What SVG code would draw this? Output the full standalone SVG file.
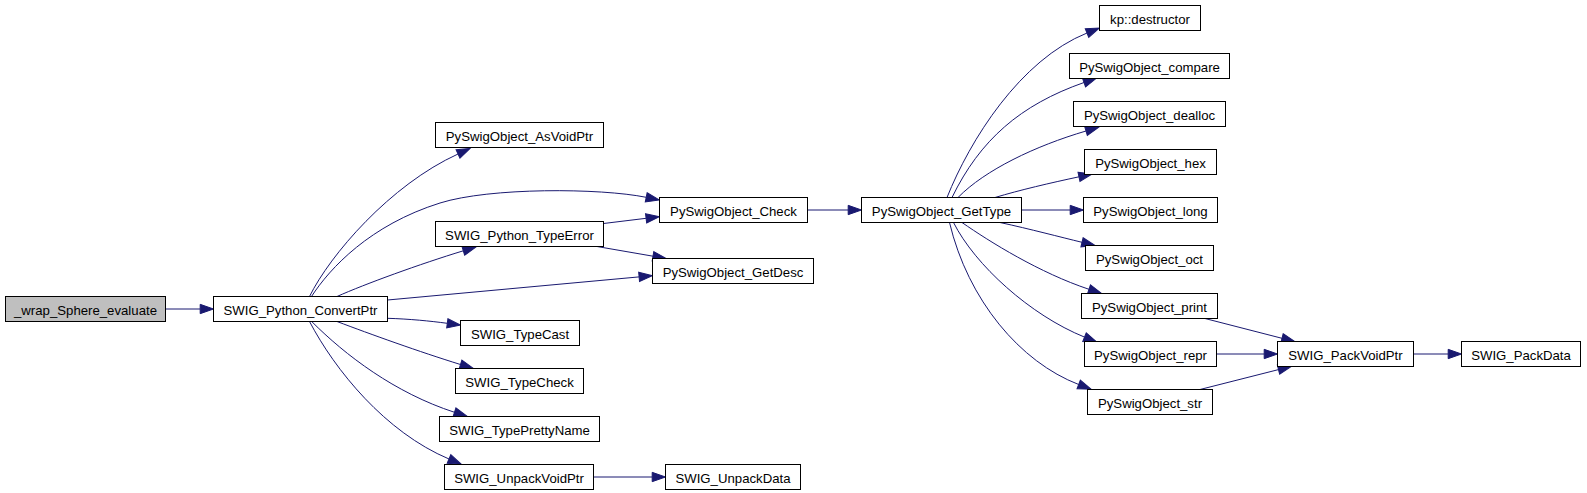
<svg xmlns="http://www.w3.org/2000/svg" width="1587" height="493" viewBox="0 0 1587 493">
<style>
.n rect{fill:#ffffff;stroke:#000000;stroke-width:1}
.n.root rect{fill:#bfbfbf}
.n text{font-family:"Liberation Sans",Arial,sans-serif;font-size:13.2px;text-anchor:middle;fill:#000000}
.e path{fill:none;stroke:#191970;stroke-width:1;marker-end:url(#ah)}
</style>
<defs>
<marker id="ah" markerWidth="16" markerHeight="12" refX="0.5" refY="6" orient="auto" markerUnits="userSpaceOnUse" overflow="visible">
<path d="M0.5,1.33 L13.8,6 L0.5,10.67 z" fill="#191970" stroke="#191970" stroke-width="1"/>
</marker>
</defs>
<rect width="1587" height="493" fill="#ffffff"/>
<g id="edges" class="e">
<path d="M165.5,309 L200.2,309"/>
<path d="M309.5,296.5 C330,255 390,185 458,154"/>
<path d="M311.5,296.5 C330,268 370,225 440,203 C490,187.3 600,188 646.2,197.3"/>
<path d="M337,296.5 C365,284 420,264 463.3,250.8"/>
<path d="M387.5,300 L639.1,276.9"/>
<path d="M387.5,318.3 C410,319 430,321 447.3,323.3"/>
<path d="M337,321.5 C370,334 420,352 460.5,364.5"/>
<path d="M311.7,321.5 C345,355 395,393 454.5,412.3"/>
<path d="M309.5,321.5 C335,370 385,432 449,459"/>
<path d="M593.5,477 L652.2,477"/>
<path d="M603.5,223.5 L646.1,218.3"/>
<path d="M597,246.5 L653,256.2"/>
<path d="M807.5,210 L848.2,210"/>
<path d="M947,197.5 C970,140 1020,60 1087,33"/>
<path d="M952,197.5 C980,140 1020,105 1084,82.5"/>
<path d="M958,197.5 C985,170 1035,146 1086,131"/>
<path d="M995,197.5 C1020,190 1050,183 1079,176.8"/>
<path d="M1021.5,210 L1070.2,210"/>
<path d="M1000,222.5 C1030,229 1060,237 1082,242.3"/>
<path d="M962,222.5 C990,242 1040,273 1089,289.3"/>
<path d="M953.5,222.5 C975,265 1030,315 1084.5,337.1"/>
<path d="M949.5,222.5 C968,300 1020,362 1078.7,384.5"/>
<path d="M1205,318.5 L1282,338.3"/>
<path d="M1216.5,354 L1264.2,354"/>
<path d="M1200,389.5 L1278.5,369.6"/>
<path d="M1413.5,354 L1448.2,354"/>
</g>
<g id="n_wrap_Sphere_evaluate" class="n root"><rect x="5.5" y="296.5" width="160" height="25"/><text x="85.5" y="314.5">_wrap_Sphere_evaluate</text></g>
<g id="n_SWIG_Python_ConvertPtr" class="n"><rect x="213.5" y="296.5" width="174" height="25"/><text x="300.5" y="314.5">SWIG_Python_ConvertPtr</text></g>
<g id="n_PySwigObject_AsVoidPtr" class="n"><rect x="435.5" y="122.5" width="168" height="25"/><text x="519.5" y="140.5">PySwigObject_AsVoidPtr</text></g>
<g id="n_SWIG_Python_TypeError" class="n"><rect x="435.5" y="221.5" width="168" height="25"/><text x="519.5" y="239.5">SWIG_Python_TypeError</text></g>
<g id="n_SWIG_TypeCast" class="n"><rect x="460.5" y="320.5" width="119" height="25"/><text x="520" y="338.5">SWIG_TypeCast</text></g>
<g id="n_SWIG_TypeCheck" class="n"><rect x="455.5" y="368.5" width="128" height="25"/><text x="519.5" y="386.5">SWIG_TypeCheck</text></g>
<g id="n_SWIG_TypePrettyName" class="n"><rect x="439.5" y="416.5" width="160" height="25"/><text x="519.5" y="434.5">SWIG_TypePrettyName</text></g>
<g id="n_SWIG_UnpackVoidPtr" class="n"><rect x="444.5" y="464.5" width="149" height="25"/><text x="519" y="482.5">SWIG_UnpackVoidPtr</text></g>
<g id="n_SWIG_UnpackData" class="n"><rect x="665.5" y="464.5" width="135" height="25"/><text x="733" y="482.5">SWIG_UnpackData</text></g>
<g id="n_PySwigObject_Check" class="n"><rect x="659.5" y="197.5" width="148" height="25"/><text x="733.5" y="215.5">PySwigObject_Check</text></g>
<g id="n_PySwigObject_GetDesc" class="n"><rect x="652.5" y="258.5" width="161" height="25"/><text x="733" y="276.5">PySwigObject_GetDesc</text></g>
<g id="n_PySwigObject_GetType" class="n"><rect x="861.5" y="197.5" width="160" height="25"/><text x="941.5" y="215.5">PySwigObject_GetType</text></g>
<g id="n_kp_destructor" class="n"><rect x="1099.5" y="5.5" width="101" height="25"/><text x="1150" y="23.5">kp::destructor</text></g>
<g id="n_PySwigObject_compare" class="n"><rect x="1069.5" y="53.5" width="160" height="25"/><text x="1149.5" y="71.5">PySwigObject_compare</text></g>
<g id="n_PySwigObject_dealloc" class="n"><rect x="1073.5" y="101.5" width="152" height="25"/><text x="1149.5" y="119.5">PySwigObject_dealloc</text></g>
<g id="n_PySwigObject_hex" class="n"><rect x="1084.5" y="149.5" width="132" height="25"/><text x="1150.5" y="167.5">PySwigObject_hex</text></g>
<g id="n_PySwigObject_long" class="n"><rect x="1083.5" y="197.5" width="134" height="25"/><text x="1150.5" y="215.5">PySwigObject_long</text></g>
<g id="n_PySwigObject_oct" class="n"><rect x="1085.5" y="245.5" width="128" height="25"/><text x="1149.5" y="263.5">PySwigObject_oct</text></g>
<g id="n_PySwigObject_print" class="n"><rect x="1081.5" y="293.5" width="136" height="25"/><text x="1149.5" y="311.5">PySwigObject_print</text></g>
<g id="n_PySwigObject_repr" class="n"><rect x="1084.5" y="341.5" width="132" height="25"/><text x="1150.5" y="359.5">PySwigObject_repr</text></g>
<g id="n_PySwigObject_str" class="n"><rect x="1087.5" y="389.5" width="125" height="25"/><text x="1150" y="407.5">PySwigObject_str</text></g>
<g id="n_SWIG_PackVoidPtr" class="n"><rect x="1277.5" y="341.5" width="136" height="25"/><text x="1345.5" y="359.5">SWIG_PackVoidPtr</text></g>
<g id="n_SWIG_PackData" class="n"><rect x="1461.5" y="341.5" width="119" height="25"/><text x="1521" y="359.5">SWIG_PackData</text></g>
</svg>
